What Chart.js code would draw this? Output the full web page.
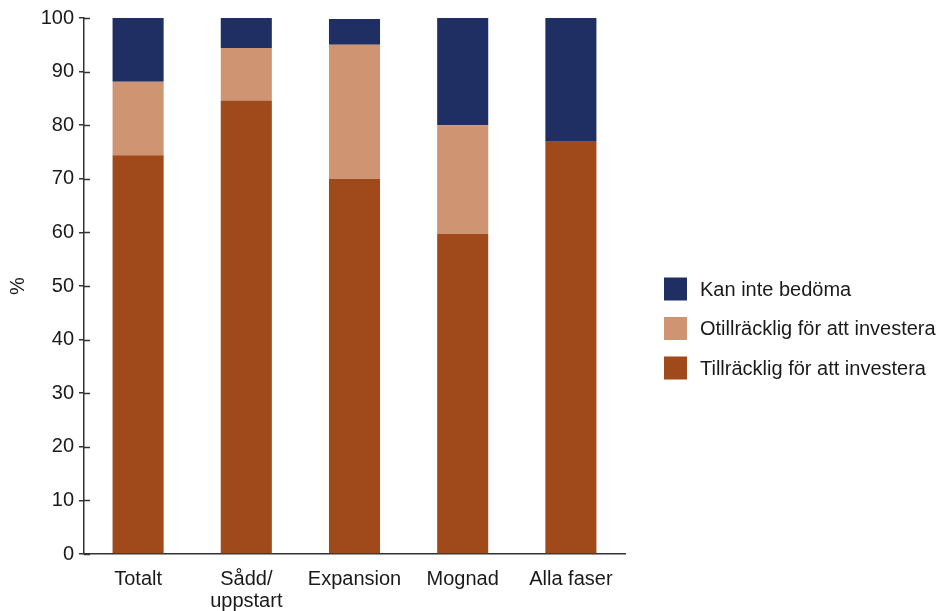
<!DOCTYPE html>
<html>
<head>
<meta charset="utf-8">
<script src="https://cdn.jsdelivr.net/npm/chart.js@4/dist/chart.umd.min.js"></script>
<style>
  html, body { margin: 0; padding: 0; background: #fff; }
  #wrap { width: 941px; height: 611px; }
</style>
</head>
<body>
<div id="wrap"><canvas id="chart"></canvas></div>
<script>
const categories = ["Totalt", ["Sådd/", "uppstart"], "Expansion", "Mognad", "Alla faser"];
const tillracklig = [74.4, 84.6, 70.0, 59.7, 76.9];
const otillracklig = [13.7, 9.8, 25.0, 20.3, 0];
const kanInte = [11.9, 5.6, 4.8, 20.0, 23.1];
const yTicks = [0, 10, 20, 30, 40, 50, 60, 70, 80, 90, 100];

const FONT = "'Liberation Sans', Arial, Helvetica, sans-serif";
const TEXT = '#1a1a1a';

// small ticks on the inner side of the y axis
const innerTicks = {
    id: 'innerTicks',
    afterDraw(chart) {
        const y = chart.scales.y;
        const ctx = chart.ctx;
        ctx.save();
        ctx.strokeStyle = '#333';
        ctx.lineWidth = 1.5;
        yTicks.forEach(v => {
            const py = Math.round(y.getPixelForValue(v)) + 0.5;
            ctx.beginPath();
            ctx.moveTo(y.right, py);
            ctx.lineTo(y.right + 6, py);
            ctx.stroke();
        });
        ctx.restore();
    }
};

// legend on the right, top entry = last dataset
const sideLegend = {
    id: 'sideLegend',
    afterDraw(chart) {
        const ctx = chart.ctx;
        const items = chart.data.datasets.slice().reverse();
        ctx.save();
        ctx.font = '20px ' + FONT;
        ctx.textBaseline = 'middle';
        ctx.fillStyle = TEXT;
        items.forEach((ds, i) => {
            const cy = 289 + i * 39.5;
            ctx.fillStyle = ds.backgroundColor;
            ctx.fillRect(664, cy - 11.5, 23, 23);
            ctx.fillStyle = TEXT;
            ctx.fillText(ds.label, 700, cy + 1);
        });
        ctx.restore();
    }
};

new Chart(document.getElementById('chart'), {
    type: 'bar',
    data: {
        labels: categories,
        datasets: [
            { label: 'Tillräcklig för att investera', data: tillracklig, backgroundColor: '#a0491b' },
            { label: 'Otillräcklig för att investera', data: otillracklig, backgroundColor: '#cf9573' },
            { label: 'Kan inte bedöma', data: kanInte, backgroundColor: '#1f2f63' }
        ]
    },
    options: {
        responsive: true,
        maintainAspectRatio: false,
        animation: false,
        layout: { padding: { top: 18, right: 316, bottom: 0, left: 0 } },
        datasets: { bar: { categoryPercentage: 1, barPercentage: 0.472 } },
        plugins: {
            tooltip: { enabled: false },
            legend: { display: false }
        },
        scales: {
            x: {
                stacked: true,
                afterFit: s => { s.height = 57; },
                grid: { display: false, drawTicks: false },
                border: { color: '#333', width: 1.5 },
                ticks: { color: TEXT, font: { family: FONT, size: 20, lineHeight: 1.1 }, padding: 14, maxRotation: 0 }
            },
            y: {
                stacked: true,
                min: 0,
                max: 100,
                afterFit: s => { s.width = 84; },
                afterBuildTicks: s => { s.ticks = yTicks.map(v => ({ value: v })); },
                grid: { drawOnChartArea: false, tickLength: 5, color: '#333', lineWidth: 1.5 },
                border: { color: '#333', width: 1.5 },
                ticks: { color: TEXT, font: { family: FONT, size: 20 }, padding: 5 },
                title: { display: true, text: '%', color: TEXT, font: { family: FONT, size: 20 }, padding: { top: 6, bottom: 0 } }
            }
        }
    },
    plugins: [innerTicks, sideLegend]
});
</script>
</body>
</html>
